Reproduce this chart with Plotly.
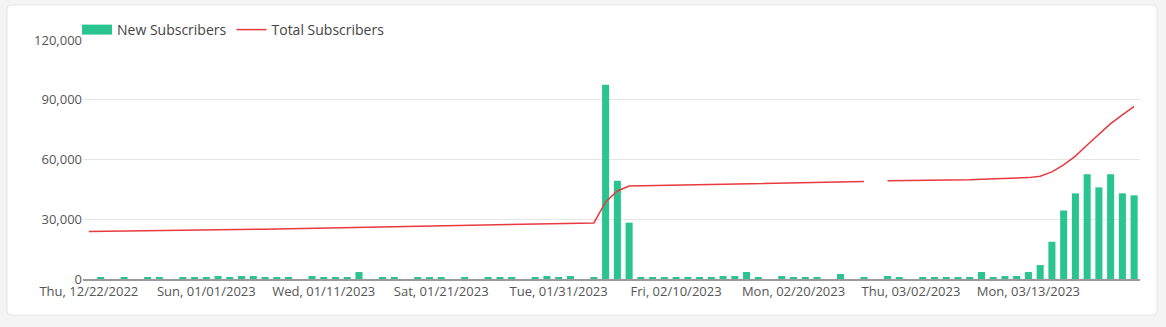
import datetime as dt
import plotly.graph_objects as go

# ---- data ----
start_date = dt.date(2022, 12, 22)
n_days = 91
skipped_dates = [dt.date(2023, 3, 12)]
dates = [start_date + dt.timedelta(days=i) for i in range(n_days)]
dates = [d for d in dates if d not in skipped_dates]
categories = [d.strftime("%a, %m/%d/%Y") for d in dates]
tick_labels = categories[::10]

new_subscribers = [
    0, 650, 0, 650, 0, 650, 650, 0, 650, 650,
    650, 1500, 650, 1500, 1500, 650, 650, 650, 0, 1500,
    650, 650, 650, 3500, 0, 650, 650, 0, 650, 650,
    650, 0, 650, 0, 650, 650, 650, 0, 650, 1500,
    650, 1500, 0, 650, 97500, 49300, 28300, 650, 650, 650,
    650, 650, 650, 650, 1500, 1500, 3500, 650, 0, 1500,
    650, 650, 650, 0, 2500, 0, 650, 0, 1500, 650,
    0, 650, 650, 650, 650, 650, 3500, 650, 1500, 1500,
    3500, 7000, 18700, 34400, 43000, 52600, 46000, 52600, 43000, 42000,
]

total_subscribers = [
    23900, 23950, 24000, 24050, 24100, 24150, 24200, 24250, 24300, 24350,
    24450, 24550, 24650, 24750, 24850, 25000, 25100, 25200, 25300, 25400,
    25550, 25700, 25850, 26000, 26200, 26300, 26400, 26500, 26600, 26700,
    26800, 26900, 27000, 27100, 27200, 27300, 27400, 27500, 27600, 27700,
    27850, 27950, 28050, 28150, 38700, 44200, 46700, 46800, 46900, 46950,
    47000, 47100, 47200, 47300, 47450, 47600, 47800, 48000, 48100, 48200,
    48300, 48400, 48500, 48600, 48750, 48850, 48950, None, 49300, 49350,
    49400, 49450, 49550, 49650, 49750, 49850, 50100, 50250, 50400, 50600,
    50900, 51600, 53800, 57300, 61700, 67300, 72600, 78000, 82400, 86700,
]

y_ticks = [0, 30000, 60000, 90000, 120000]

# ---- figure ----
FONT = "Open Sans, Lato, sans-serif"
TEXT = "#555555"
GREEN = "#29c48f"
RED = "#e8393f"

fig = go.Figure()
fig.add_trace(go.Bar(
    x=categories, y=new_subscribers, name="New Subscribers",
    marker=dict(color=GREEN, line=dict(width=0)),
    legendgroup="new", showlegend=False,
))
# legend entry for the bars, drawn as a wide filled swatch
fig.add_trace(go.Scatter(
    x=[None], y=[None], name="New Subscribers", mode="lines",
    line=dict(color=GREEN, width=13), legendgroup="new", showlegend=True,
    hoverinfo="skip",
))
fig.add_trace(go.Scatter(
    x=categories, y=total_subscribers, name="Total Subscribers",
    mode="lines", line=dict(color=RED, width=1.5),
    connectgaps=False,
))

L, R, T, B = 83, 26, 40, 48
W, H = 1166, 327
pw, ph = W - L - R, H - T - B

def px_x(x):
    return (x - L) / pw

def px_y(y):
    return (H - B - y) / ph

# white card with rounded corners
x0, x1 = px_x(7), px_x(1157)
y0, y1 = px_y(315), px_y(5)
rx = 4 / pw
ry = 4 / ph
path = (f"M {x0+rx},{y1} L {x1-rx},{y1} Q {x1},{y1} {x1},{y1-ry} "
        f"L {x1},{y0+ry} Q {x1},{y0} {x1-rx},{y0} L {x0+rx},{y0} "
        f"Q {x0},{y0} {x0},{y0+ry} L {x0},{y1-ry} Q {x0},{y1} {x0+rx},{y1} Z")
fig.add_shape(type="path", xref="paper", yref="paper", path=path,
              fillcolor="white", line=dict(color="#e6e6e6", width=1), layer="below")

fig.update_layout(
    width=W, height=H,
    margin=dict(l=L, r=R, t=T, b=B),
    paper_bgcolor="#f4f4f4",
    plot_bgcolor="rgba(0,0,0,0)",
    font=dict(family=FONT, size=13, color=TEXT),
    bargap=0.4,
    showlegend=True,
    legend=dict(orientation="h", x=px_x(77), xanchor="left", y=px_y(30), yanchor="middle",
                font=dict(family=FONT, size=14, color="#444444"),
                bgcolor="rgba(0,0,0,0)", itemwidth=30, tracegroupgap=0),
    xaxis=dict(type="category", categoryorder="array", categoryarray=categories,
               tickvals=tick_labels, ticktext=tick_labels,
               showgrid=False, showline=True, linecolor="#9a9a9a", linewidth=1.5,
               ticks="", tickfont=dict(size=13, color=TEXT), zeroline=False,
               range=[-0.5, len(categories) - 0.5], tickangle=0),
    yaxis=dict(range=[0, 120000], tickvals=y_ticks, tickformat=",",
               showgrid=True, gridcolor="#e6e6e6", gridwidth=1,
               zeroline=False, showline=False, ticks="",
               tickfont=dict(size=13, color=TEXT)),
)

fig.write_html("out.html")
